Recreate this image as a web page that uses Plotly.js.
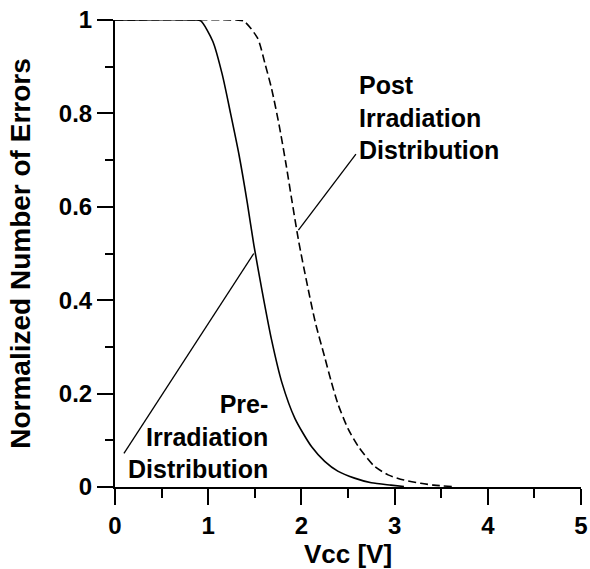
<!DOCTYPE html>
<html>
<head>
<meta charset="utf-8">
<script src="https://cdn.plot.ly/plotly-3.0.1.min.js"></script>
<style>html,body{margin:0;padding:0;background:#fff;}#chart{width:590px;height:569px;}</style>
</head>
<body>
<div id="chart"></div>
<script>
// Pre-irradiation distribution (solid)
const preVcc = [0, 0.85, 0.92, 1.05, 1.15, 1.24, 1.33, 1.42, 1.49, 1.58, 1.68, 1.79, 1.93, 2.11, 2.25, 2.39, 2.57, 2.75, 2.96, 3.10];
const preErrors = [1, 1, 0.998, 0.954, 0.884, 0.800, 0.712, 0.608, 0.518, 0.418, 0.315, 0.224, 0.147, 0.086, 0.055, 0.034, 0.019, 0.009, 0.004, 0.001];
// Post-irradiation distribution (dashed)
const postVcc = [0, 1.30, 1.38, 1.53, 1.61, 1.68, 1.76, 1.83, 1.90, 1.97, 2.06, 2.15, 2.25, 2.32, 2.39, 2.50, 2.61, 2.78, 2.93, 3.10, 3.28, 3.42, 3.62];
const postErrors = [1, 1, 0.998, 0.961, 0.906, 0.853, 0.776, 0.697, 0.611, 0.527, 0.436, 0.352, 0.278, 0.226, 0.179, 0.125, 0.087, 0.045, 0.026, 0.015, 0.008, 0.004, 0.001];

const xTicks = [0, 1, 2, 3, 4, 5];
const yTicks = [0, 0.2, 0.4, 0.6, 0.8, 1];
const yTickLabels = ['0', '0.2', '0.4', '0.6', '0.8', '1'];

const labelPost = 'Post<br>Irradiation<br>Distribution';
const labelPre = 'Pre-<br>Irradiation<br>Distribution';

const FONT = 'Liberation Sans, Arial, Helvetica, sans-serif';

const traces = [
  {x: preVcc, y: preErrors, mode: 'lines', type: 'scatter', cliponaxis: false,
   line: {color: '#000', width: 1.6, shape: 'spline', smoothing: 0.7}, hoverinfo: 'skip'},
  {x: postVcc, y: postErrors, mode: 'lines', type: 'scatter', cliponaxis: false,
   line: {color: '#000', width: 1.6, dash: '8px,4px', shape: 'spline', smoothing: 0.7}, hoverinfo: 'skip'}
];

const axisCommon = {
  showgrid: false, zeroline: false, showline: true, linecolor: '#000', linewidth: 2,
  ticks: 'outside', ticklen: 16, tickwidth: 2, tickcolor: '#000',
  ticklabeloverflow: 'allow',
  tickfont: {family: FONT, size: 24, color: '#000', weight: 'bold'}
};

const layout = {
  width: 590, height: 569,
  margin: {l: 115, r: 9, t: 20, b: 82},
  paper_bgcolor: '#fff', plot_bgcolor: '#fff',
  showlegend: false,
  font: {family: FONT, color: '#000'},
  xaxis: Object.assign({}, axisCommon, {
    range: [0, 5], tickvals: xTicks, ticktext: xTicks.map(String),
    minor: {ticks: 'outside', ticklen: 9, tickwidth: 2, tickcolor: '#000', dtick: 0.5, showgrid: false},
    title: {text: 'Vcc [V]', font: {family: FONT, size: 26, color: '#000', weight: 'bold'}, standoff: 7}
  }),
  yaxis: Object.assign({}, axisCommon, {
    range: [0, 1], tickvals: yTicks, ticktext: yTickLabels,
    minor: {ticks: 'outside', ticklen: 8, tickwidth: 2, tickcolor: '#000', dtick: 0.1, showgrid: false},
    title: {text: 'Normalized Number of Errors', font: {family: FONT, size: 28, color: '#000', weight: 'bold'}, standoff: 20}
  }),
  shapes: [
    {type: 'line', xref: 'x', yref: 'y', x0: 2.585, y0: 0.713, x1: 1.968, y1: 0.550, line: {color: '#000', width: 1.3}},
    {type: 'line', xref: 'x', yref: 'y', x0: 1.489, y0: 0.500, x1: 0.096, y1: 0.072, line: {color: '#000', width: 1.3}}
  ],
  annotations: [
    {xref: 'x', yref: 'y', x: 2.60, y: 0.792, text: labelPost, showarrow: false, xanchor: 'left', yanchor: 'middle', align: 'left',
     font: {family: FONT, size: 25, color: '#000', weight: 'bold'}},
    {xref: 'x', yref: 'y', x: 1.66, y: 0.108, text: labelPre, showarrow: false, xanchor: 'right', yanchor: 'middle', align: 'right',
     font: {family: FONT, size: 25, color: '#000', weight: 'bold'}}
  ]
};

Plotly.newPlot('chart', traces, layout, {displayModeBar: false, staticPlot: true});
</script>
</body>
</html>
